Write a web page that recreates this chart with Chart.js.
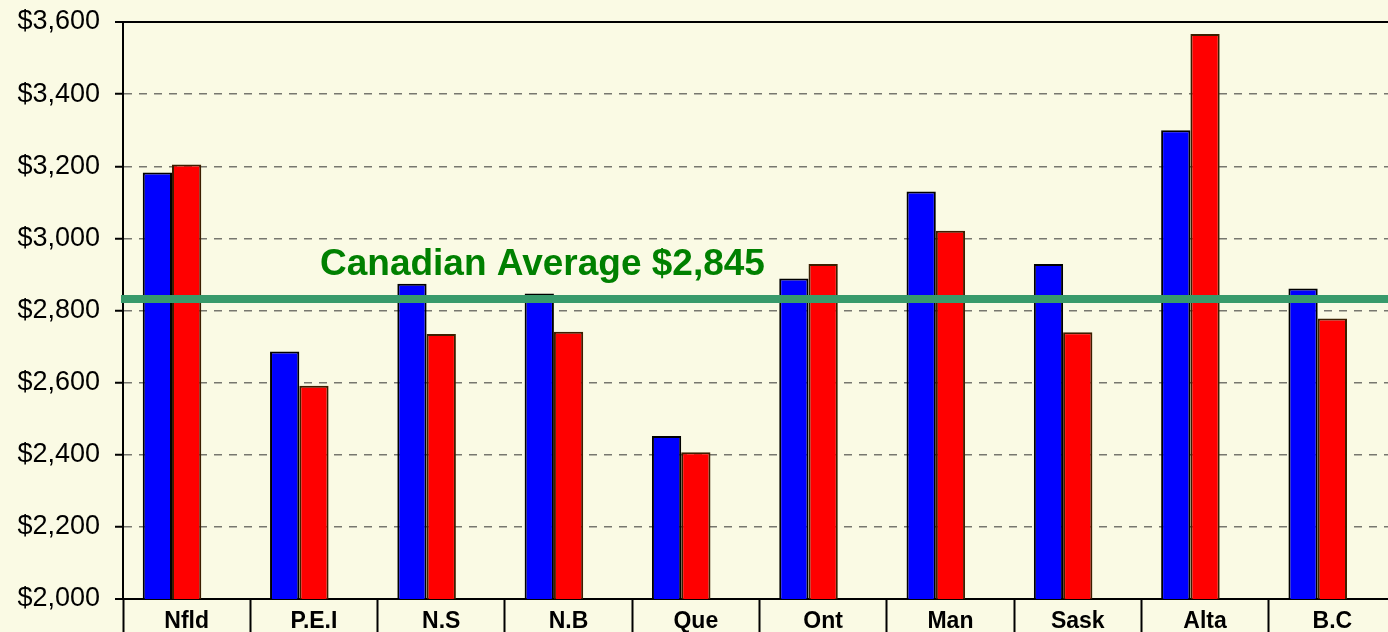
<!DOCTYPE html>
<html>
<head>
<meta charset="utf-8">
<script src="https://cdn.jsdelivr.net/npm/chart.js@4/dist/chart.umd.min.js"></script>
<style>
  html, body { margin: 0; padding: 0; background: #FAFAE4; overflow: hidden; }
  #wrap { width: 1400px; height: 632px; }
</style>
</head>
<body>
<div id="wrap"><canvas id="c" width="1400" height="632"></canvas></div>
<script>
const categories = ['Nfld', 'P.E.I', 'N.S', 'N.B', 'Que', 'Ont', 'Man', 'Sask', 'Alta', 'B.C'];
const seriesBlue = [3183, 2686, 2874, 2847, 2452, 2889, 3130, 2929, 3300, 2861];
const seriesRed  = [3205, 2591, 2735, 2741, 2407, 2929, 3021, 2740, 3567, 2778];
const seriesHidden = [null, null, null, null, null, null, null, null, null, null];
const averageLineValue = 2832;
const averageLabel = 'Canadian Average $2,845';
const yMin = 2000, yMax = 3600, yStep = 200;

const FONT = '"Liberation Sans", Arial, sans-serif';
const BG = '#FAFAE4';

const bgPlugin = {
  id: 'bg',
  beforeDraw(chart) {
    const ctx = chart.ctx;
    ctx.save();
    ctx.fillStyle = BG;
    ctx.fillRect(0, 0, chart.width, chart.height);
    ctx.restore();
  }
};

// Average reference line drawn through the y scale, then its label
const averagePlugin = {
  id: 'average',
  afterDatasetsDraw(chart) {
    const ctx = chart.ctx;
    const area = chart.chartArea;
    const y = chart.scales.y.getPixelForValue(averageLineValue);
    ctx.save();
    ctx.strokeStyle = '#389A6B';
    ctx.lineWidth = 8;
    ctx.beginPath();
    ctx.moveTo(area.left - 2, y);
    ctx.lineTo(area.right, y);
    ctx.stroke();
    ctx.font = 'bold 37px ' + FONT;
    ctx.fillStyle = '#008000';
    ctx.textAlign = 'left';
    ctx.textBaseline = 'alphabetic';
    ctx.fillText(averageLabel, 320, 275);
    ctx.restore();
  }
};

new Chart(document.getElementById('c'), {
  type: 'bar',
  data: {
    labels: categories,
    datasets: [
      {
        label: 'Series 1', data: seriesBlue,
        backgroundColor: '#0000FF', borderColor: '#000000', borderWidth: 2, borderSkipped: false
      },
      {
        label: 'Series 2', data: seriesRed,
        backgroundColor: '#FF0000', borderColor: '#3C1E00', borderWidth: 2, borderSkipped: false
      },
      {
        label: 'Series 3', data: seriesHidden,
        backgroundColor: 'rgba(0,0,0,0)', borderWidth: 0
      }
    ]
  },
  options: {
    responsive: false,
    animation: false,
    devicePixelRatio: 1,
    datasets: { bar: { categoryPercentage: 0.69, barPercentage: 1.0 } },
    layout: { padding: { top: 22, right: 4, left: 0, bottom: 0 } },
    plugins: { legend: { display: false }, tooltip: { enabled: false } },
    scales: {
      x: {
        type: 'category',
        offset: true,
        afterFit(scale) { scale.height = 33; scale.paddingLeft = 0; scale.paddingRight = 0; },
        grid: {
          offset: true, drawOnChartArea: false, drawTicks: true,
          tickLength: 40, tickColor: '#000000', tickWidth: 2, color: '#000000'
        },
        border: { display: true, color: '#000000', width: 2 },
        ticks: {
          padding: -31, color: '#000000',
          font: { family: FONT, size: 23, weight: 'bold' }
        }
      },
      y: {
        type: 'linear', min: yMin, max: yMax,
        afterFit(scale) { scale.width = 123; scale.paddingTop = 0; scale.paddingBottom = 0; },
        grid: {
          drawTicks: true, tickLength: 8, tickColor: '#000000', tickWidth: 2,
          color: (c) => (c.tick && (c.tick.value === yMax || c.tick.value === yMin)) ? '#000000' : '#77776F',
          lineWidth: (c) => (c.tick && (c.tick.value === yMax || c.tick.value === yMin)) ? 2 : 1.5
        },
        border: {
          display: true, color: '#000000', width: 2,
          dash: (c) => (c.tick && (c.tick.value === yMax || c.tick.value === yMin)) ? [] : [8, 7]
        },
        ticks: {
          stepSize: yStep, padding: 15, color: '#000000',
          font: { family: FONT, size: 27 },
          callback: (v) => '$' + Number(v).toLocaleString('en-US')
        }
      }
    }
  },
  plugins: [bgPlugin, averagePlugin]
});
</script>
</body>
</html>
